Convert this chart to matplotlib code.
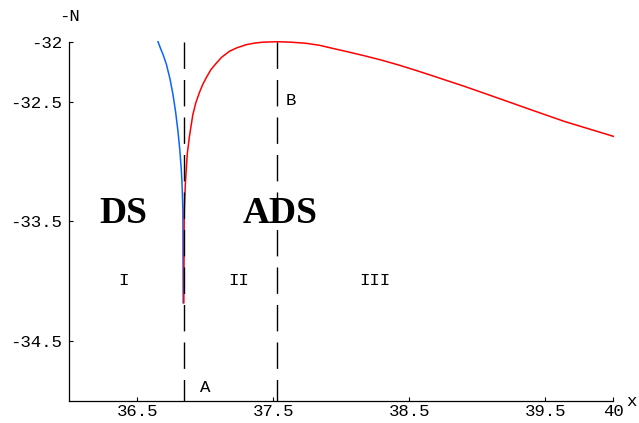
import matplotlib.pyplot as plt
import numpy as np

plt.rcParams['axes.unicode_minus'] = False

# rama roja (ADS)
x_rojo = [36.842, 36.845, 36.853, 36.867, 36.882, 36.897, 36.908, 36.930, 36.958,
          36.980, 37.007, 37.040, 37.080, 37.120, 37.177, 37.230, 37.300, 37.360,
          37.421, 37.531, 37.630, 37.739, 37.840, 37.934, 38.050, 38.179, 38.300,
          38.423, 38.550, 38.667, 38.911, 39.155, 39.399, 39.644, 40.0]
y_rojo = [-34.18, -33.42, -33.19, -32.94, -32.80, -32.69, -32.61, -32.51, -32.42,
          -32.36, -32.30, -32.235, -32.18, -32.13, -32.08, -32.052, -32.025, -32.012,
          -32.004, -32.0, -32.004, -32.013, -32.03, -32.055, -32.085, -32.12, -32.155,
          -32.195, -32.24, -32.283, -32.375, -32.472, -32.57, -32.667, -32.79]

# rama azul (DS)
x_azul = [36.652, 36.672, 36.690, 36.714, 36.740, 36.762, 36.782, 36.799, 36.812,
          36.823, 36.830, 36.835, 36.837]
y_azul = [-32.0, -32.06, -32.11, -32.19, -32.31, -32.44, -32.59, -32.75, -32.90,
          -33.06, -33.22, -33.42, -34.18]

x_a = 36.84
x_b = 37.53

ticks_x = [36.5, 37.5, 38.5, 39.5, 40]
ticks_y = [-32, -32.5, -33.5, -34.5]

fig = plt.figure(figsize=(6.39, 4.23), dpi=100)
ax = fig.add_axes([0.1085, 0.052, 0.8513, 0.8494])

ax.plot(x_azul, y_azul, color='#0a64ff', lw=1.1, clip_on=False)
ax.plot(x_rojo, y_rojo, color='#ff0000', lw=1.1, clip_on=False)

for xv in [x_a, x_b]:
    ax.plot([xv, xv], [-32, -35], color='black', lw=1.0, dashes=(19, 8), zorder=3)

ax.set_xlim(36, 40)
ax.set_ylim(-35, -32)
ax.spines['top'].set_visible(False)
ax.spines['right'].set_visible(False)
ax.spines['left'].set_linewidth(0.9)
ax.spines['bottom'].set_linewidth(0.9)

ax.set_xticks(ticks_x)
ax.set_xticklabels([str(t) for t in ticks_x])
ax.set_yticks(ticks_y)
ax.set_yticklabels([str(t) for t in ticks_y])
ax.tick_params(direction='in', length=3, width=0.8)
ax.tick_params(axis='x', pad=2)
ax.tick_params(axis='y', pad=5)
for lab in ax.get_xticklabels() + ax.get_yticklabels():
    lab.set_family('Liberation Mono')
    lab.set_fontsize(12.5)

mono = dict(family='Liberation Mono', fontsize=12.5, ha='center', va='center')
ax.text(0, 1.069, '-N', transform=ax.transAxes, **mono)
ax.text(1.034, 0.0, 'x', transform=ax.transAxes, **mono)

negrita = dict(family='Liberation Serif', fontweight='bold', fontsize=27,
               ha='center', va='baseline')
ax.text(36.397, -33.51, 'DS', **negrita)
ax.text(37.547, -33.51, 'ADS', **negrita)

ax.text(36.40, -33.99, 'I', **mono)
ax.text(37.246, -33.99, 'II', **mono)
ax.text(38.243, -33.99, 'III', **mono)
ax.text(36.998, -34.89, 'A', **mono)
ax.text(37.629, -32.494, 'B', **mono)

plt.savefig('out.png', dpi=100)
